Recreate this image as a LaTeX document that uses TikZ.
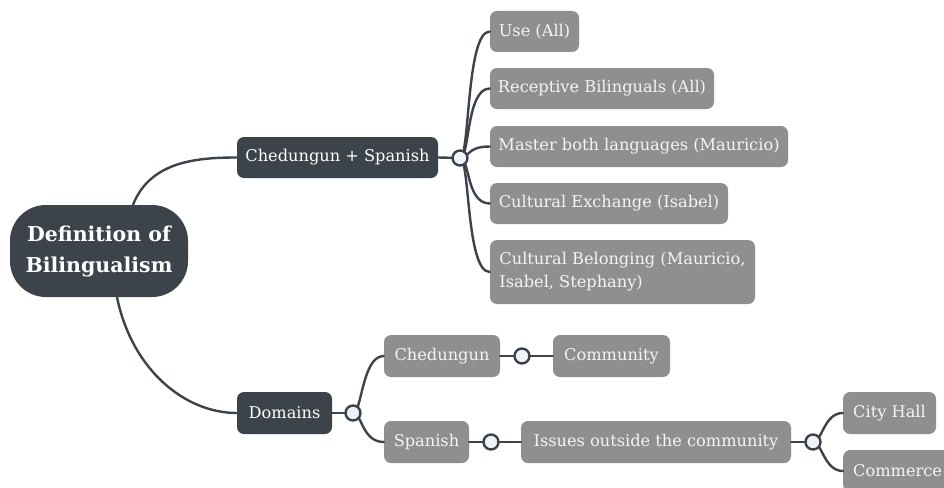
\documentclass[tikz,border=0pt]{standalone}
\usepackage{fontspec}
\setmainfont{DejaVu Serif}
\begin{document}
\definecolor{inkdark}{HTML}{3C434A}
\definecolor{leafgray}{HTML}{8F8F8F}
\definecolor{leaftext}{HTML}{F4F4F4}
\definecolor{hubfill}{HTML}{EEF3F8}
\begin{tikzpicture}[x=1pt,y=-1pt,
  darkbox/.style={fill=inkdark, text=white, rounded corners=7pt, minimum height=41pt,
    inner sep=0pt, font=\fontsize{16.2}{19}\selectfont},
  leafbox/.style={fill=leafgray, text=leaftext, rounded corners=7pt, minimum height=41pt,
    inner sep=0pt, font=\fontsize{16.2}{19}\selectfont},
  hub/.style={circle, draw=inkdark, line width=2.4pt, fill=hubfill, minimum size=15pt, inner sep=0pt},
  link/.style={draw=inkdark, line width=2.4pt, line cap=round}
]
\useasboundingbox (0,0) rectangle (944,487);
\fill[white] (0,0) rectangle (944,487);

% root and first level
\node[darkbox, rounded corners=36pt, minimum width=178pt, minimum height=92pt,
      align=center, font=\bfseries\fontsize{20.5}{31}\selectfont] (root) at (99,251)
      {Definition of\\Bilingualism};
\node[darkbox, minimum width=201pt] (cs) at (337.5,157.5) {Chedungun + Spanish};
\node[darkbox, minimum width=95pt, minimum height=42pt] (dom) at (284.5,413) {Domains};

% leaves of Chedungun + Spanish
\node[leafbox, minimum width=89pt] (use) at (534.5,31.5) {Use (All)};
\node[leafbox, minimum width=224pt] (rec) at (602,88.5) {Receptive Bilinguals (All)};
\node[leafbox, minimum width=298pt] (mas) at (639,146.5) {Master both languages (Mauricio)};
\node[leafbox, minimum width=238pt] (cex) at (609,203.5) {Cultural Exchange (Isabel)};
\node[leafbox, minimum width=265pt, minimum height=64pt, align=left,
      font=\fontsize{16.2}{23}\selectfont] (cbl) at (622.5,272)
      {Cultural Belonging (Mauricio,\\Isabel, Stephany)};

% domains
\node[leafbox, minimum width=116pt, minimum height=42pt] (ched) at (442,356) {Chedungun};
\node[leafbox, minimum width=117pt, minimum height=42pt] (comm) at (611.5,356) {Community};
\node[leafbox, minimum width=85pt, minimum height=42pt] (spa) at (426.5,442) {Spanish};
\node[leafbox, minimum width=270pt, minimum height=42pt] (iss) at (656,442) {Issues outside the community};
\node[leafbox, minimum width=93pt, minimum height=42pt] (city) at (889.5,413) {City Hall};
\node[leafbox, minimum width=106pt, minimum height=42pt, anchor=west, inner xsep=10pt,
      text width=86pt] (comc) at (843,471) {Commerce};

% hubs
\coordinate (h1) at (460,158);
\coordinate (h2) at (353,413);
\coordinate (h3) at (522,356);
\coordinate (h4) at (491,442);
\coordinate (h5) at (813,442);

% connectors from the root
\draw[link] ([xshift=34pt]root.north) .. controls (150,162) and (195,157.5) .. (cs.west);
\draw[link] ([xshift=18pt]root.south) .. controls (132,370) and (185,413) .. (dom.west);

% branches of the first hub
\draw[link] (cs.east) -- (h1);
\foreach \leaf in {use,rec,mas,cex,cbl}
  \draw[link] (h1) .. controls (470,158) and (466,0|-\leaf.west) .. (\leaf.west);

% branches of the domains hub
\draw[link] (dom.east) -- (h2);
\foreach \leaf in {ched,spa}
  \draw[link] (h2) .. controls (362,413) and (362,0|-\leaf.west) .. (\leaf.west);

% chains
\draw[link] (ched.east) -- (h3) -- (comm.west);
\draw[link] (spa.east) -- (h4) -- (iss.west);
\draw[link] (iss.east) -- (h5);
\foreach \leaf in {city,comc}
  \draw[link] (h5) .. controls (822,442) and (824,0|-\leaf.west) .. (\leaf.west);

\foreach \h in {h1,h2,h3,h4,h5}
  \node[hub] at (\h) {};
\end{tikzpicture}
\end{document}
